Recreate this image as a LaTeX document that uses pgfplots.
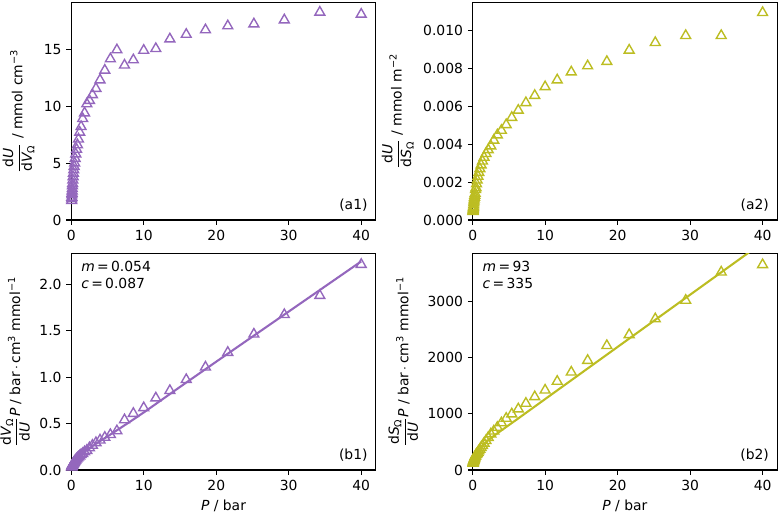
\documentclass[border=0pt]{standalone}
\usepackage{fontspec}
\setmainfont{DejaVu Sans}[ItalicFont={DejaVu Sans Oblique}]
\usepackage{amsmath}
\usepackage{pgfplots}
\usepackage{pgfplotstable}
\pgfplotsset{compat=1.18}
\definecolor{cpur}{HTML}{9467BD}
\definecolor{colv}{HTML}{BCBD22}
\pgfplotstableread{
P a1 a2 b1 b2
40 18.07 0.01093 2.214 3660
34.29 18.25 0.00972 1.879 3528
29.39 17.57 0.00972 1.673 3024
25.19 17.22 0.00935 1.463 2694
21.59 17.05 0.00895 1.266 2412
18.51 16.70 0.00835 1.108 2217
15.86 16.30 0.00812 0.973 1953
13.60 15.90 0.00780 0.855 1744
11.66 15.05 0.00738 0.775 1580
9.99 14.90 0.00702 0.670 1423
8.56 14.06 0.00656 0.609 1305
7.34 13.60 0.00618 0.540 1188
6.29 14.94 0.00578 0.421 1088
5.39 14.15 0.00540 0.381 998
4.62 13.15 0.00502 0.351 920
3.96 12.30 0.00472 0.322 839
3.40 11.55 0.00448 0.294 759
2.91 11.00 0.00420 0.265 693
2.50 10.50 0.00390 0.238 641
2.14 10.20 0.00370 0.210 578
1.83 9.40 0.00350 0.195 523
1.57 8.90 0.00330 0.176 476
1.35 8.20 0.00310 0.165 435
1.16 7.70 0.00290 0.151 400
0.99 7.10 0.00270 0.139 367
0.85 6.60 0.00250 0.129 340
0.73 6.20 0.00230 0.118 317
0.62 5.80 0.00210 0.107 295
0.53 5.40 0.00190 0.098 279
0.46 5.00 0.00170 0.092 271
0.39 4.70 0.00160 0.083 244
0.34 4.40 0.00140 0.077 243
0.29 4.10 0.00130 0.071 223
0.25 3.80 0.00120 0.066 208
0.21 3.50 0.00110 0.060 191
0.18 3.20 0.00100 0.056 180
0.155 3.00 0.00090 0.052 172
0.133 2.75 0.00080 0.048 166
0.114 2.55 0.00070 0.045 163
0.098 2.35 0.00065 0.042 151
0.084 2.20 0.00060 0.038 140
0.072 2.00 0.00055 0.036 131
0.061 1.85 0.00050 0.033 122
0.053 1.70 0.00045 0.031 118
}\datatab
\pgfplotsset{
  myax/.style={
    scale only axis, width=219.17pt, anchor=south west,
    xmin=0, xmax=42, xtick={0,10,20,30,40}, ymin=0,
    tick align=outside, xtick pos=left, ytick pos=left,
    major tick length=3.5pt,
    every tick/.style={black, line width=0.8pt},
    axis line style={line width=0.8pt},
    tick label style={font=\fontsize{10}{12}\selectfont},
    label style={font=\fontsize{10}{12}\selectfont},
    /pgf/number format/assume math mode=true,
    /pgf/number format/1000 sep={},
    scaled y ticks=false,
    clip mode=individual,
  },
  pts/.style={only marks, mark=triangle, mark size=4.1pt, line width=1pt},
}
\newcommand{\tx}[1]{\text{#1}}
\begin{document}
\begin{tikzpicture}
\path[use as bounding box] (0,0) rectangle (561.6pt,372.24pt);
% a1
\begin{axis}[myax, at={(51.34pt,213.84pt)}, height=156.46pt, ymax=19.09,
  ytick={0,5,10,15},
  ylabel={$\dfrac{\tx{d}\tx{\itshape U}}{\tx{d}\tx{\itshape V}_{\tx{Ω}}}$ / mmol cm$^{\tx{−3}}$}]
\addplot[pts, cpur] table[x=P, y=a1] {\datatab};
\node[anchor=south east, inner sep=0pt, font=\fontsize{10}{12}\selectfont] at (rel axis cs:0.974,0.04) {(a1)};
\end{axis}
% a2
\begin{axis}[myax, at={(340.34pt,213.84pt)}, height=156.46pt, ymax=0.011455,
  ytick={0,0.002,0.004,0.006,0.008,0.010},
  yticklabel style={/pgf/number format/.cd, fixed, fixed zerofill, precision=3},
  ylabel={$\dfrac{\tx{d}\tx{\itshape U}}{\tx{d}\tx{\itshape S}_{\tx{Ω}}}$ / mmol m$^{\tx{−2}}$}]
\addplot[pts, colv] table[x=P, y=a2] {\datatab};
\node[anchor=south east, inner sep=0pt, font=\fontsize{10}{12}\selectfont] at (rel axis cs:0.974,0.04) {(a2)};
\end{axis}
% b1
\begin{axis}[myax, at={(51.34pt,33.84pt)}, height=156.0pt, ymax=2.334,
  ytick={0,0.5,1.0,1.5,2.0},
  yticklabel style={/pgf/number format/.cd, fixed, fixed zerofill, precision=1},
  xlabel={\textit{P} / bar},
  ylabel={$\dfrac{\tx{d}\tx{\itshape V}_{\tx{Ω}}}{\tx{d}\tx{\itshape U}}\tx{\itshape P}$ / bar$\,\cdot\,$cm$^{\tx{3}}$ mmol$^{\tx{−1}}$}]
\addplot[cpur, line width=1.5pt] coordinates {(0,0) (0.05,0.025) (0.1,0.04) (0.2,0.06) (0.35,0.08) (0.5,0.097) (0.75,0.12) (1,0.14) (1.5,0.175) (2,0.207) (3,0.262) (4,0.313) (5,0.362) (6,0.413) (8,0.515) (10,0.62) (15,0.895) (20,1.167) (30,1.707) (40,2.247)};
\addplot[pts, cpur] table[x=P, y=b1] {\datatab};
\node[anchor=north west, inner sep=0pt, align=left, font=\fontsize{10}{12.5}\selectfont] at (rel axis cs:0.032,0.965) {\textit{m}\,=\,0.054\\\textit{c}\,=\,0.087};
\node[anchor=south east, inner sep=0pt, font=\fontsize{10}{12}\selectfont] at (rel axis cs:0.974,0.04) {(b1)};
\end{axis}
% b2
\begin{axis}[myax, at={(340.34pt,33.84pt)}, height=156.0pt, ymax=3863,
  ytick={0,1000,2000,3000},
  xlabel={\textit{P} / bar},
  ylabel={$\dfrac{\tx{d}\tx{\itshape S}_{\tx{Ω}}}{\tx{d}\tx{\itshape U}}\tx{\itshape P}$ / bar$\,\cdot\,$cm$^{\tx{3}}$ mmol$^{\tx{−1}}$}]
\addplot[colv, line width=1.5pt] coordinates {(0,90) (0.1,150) (0.25,215) (0.5,290) (0.75,340) (1,380) (1.5,450) (2,515) (3,617) (4,710) (6,893) (10,1265) (20,2195) (30,3125) (40,4055)};
\addplot[pts, colv] table[x=P, y=b2] {\datatab};
\node[anchor=north west, inner sep=0pt, align=left, font=\fontsize{10}{12.5}\selectfont] at (rel axis cs:0.032,0.965) {\textit{m}\,=\,93\\\textit{c}\,=\,335};
\node[anchor=south east, inner sep=0pt, font=\fontsize{10}{12}\selectfont] at (rel axis cs:0.974,0.04) {(b2)};
\end{axis}
\end{tikzpicture}
\end{document}
